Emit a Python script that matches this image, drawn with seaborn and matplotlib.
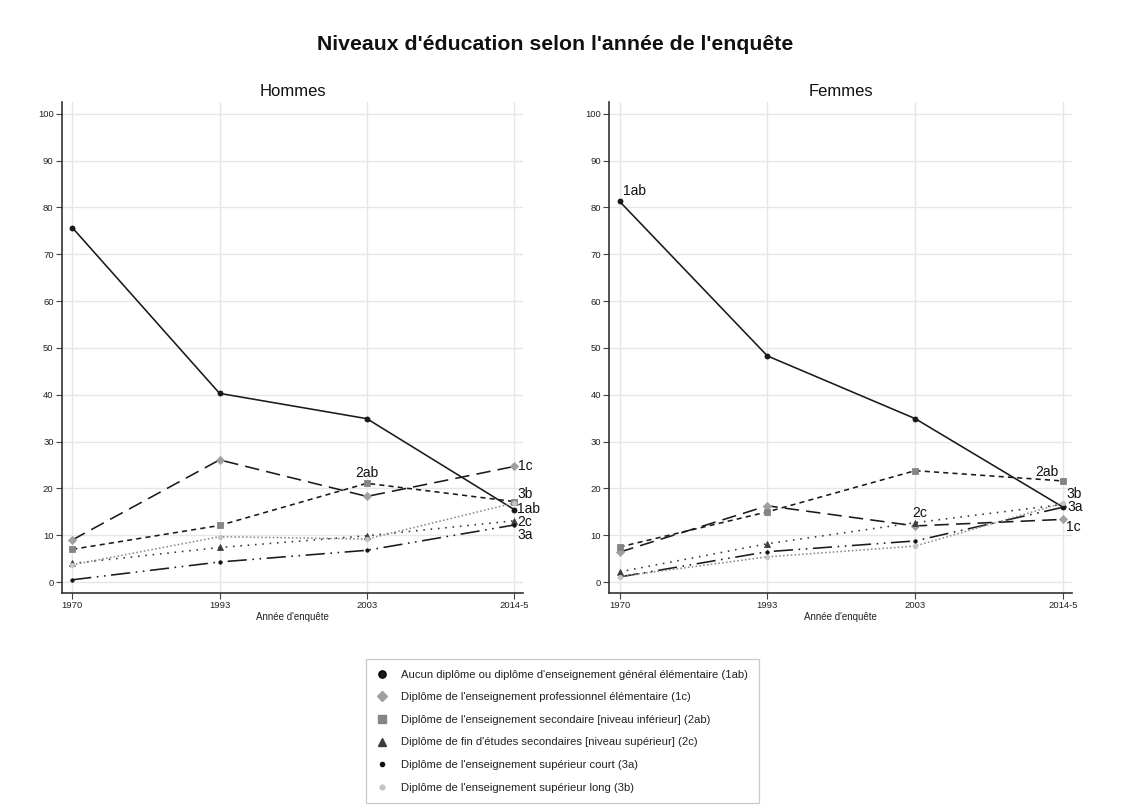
import numpy as np
import pandas as pd
import matplotlib
matplotlib.use("Agg")
import matplotlib.pyplot as plt
import seaborn as sns
from matplotlib.lines import Line2D

# ---------------- data ----------------
annees = ["1970", "1993", "2003", "2014-5"]
codes = ["1ab", "1c", "2ab", "2c", "3a", "3b"]
libelles = [
    "Aucun diplôme ou diplôme d'enseignement général élémentaire (1ab)",
    "Diplôme de l'enseignement professionnel élémentaire (1c)",
    "Diplôme de l'enseignement secondaire [niveau inférieur] (2ab)",
    "Diplôme de fin d'études secondaires [niveau supérieur] (2c)",
    "Diplôme de l'enseignement supérieur court (3a)",
    "Diplôme de l'enseignement supérieur long (3b)",
]

hommes_1ab = [75.7, 40.3, 34.9, 15.5]
hommes_1c = [9.0, 26.1, 18.3, 24.7]
hommes_2ab = [7.0, 12.1, 21.1, 17.2]
hommes_2c = [4.0, 7.4, 9.9, 13.1]
hommes_3a = [0.5, 4.3, 6.8, 12.2]
hommes_3b = [3.7, 9.7, 9.2, 16.9]

femmes_1ab = [81.3, 48.3, 34.9, 16.0]
femmes_1c = [6.4, 16.3, 12.0, 13.4]
femmes_2ab = [7.5, 15.0, 23.8, 21.6]
femmes_2c = [2.2, 8.2, 12.7, 16.6]
femmes_3a = [1.1, 6.5, 8.8, 16.0]
femmes_3b = [1.2, 5.4, 7.7, 16.9]

hommes = {"1ab": hommes_1ab, "1c": hommes_1c, "2ab": hommes_2ab,
          "2c": hommes_2c, "3a": hommes_3a, "3b": hommes_3b}
femmes = {"1ab": femmes_1ab, "1c": femmes_1c, "2ab": femmes_2ab,
          "2c": femmes_2c, "3a": femmes_3a, "3b": femmes_3b}

rows = []
for sexe, d in (("Hommes", hommes), ("Femmes", femmes)):
    for c in codes:
        for i, a in enumerate(annees):
            rows.append({"sexe": sexe, "code": c, "annee": a, "pos": i, "val": d[c][i]})
df = pd.DataFrame(rows)

# ---------------- styles ----------------
line_col = {"1ab": "#1a1a1a", "1c": "#1a1a1a", "2ab": "#1a1a1a",
            "2c": "#333333", "3a": "#1a1a1a", "3b": "#8c8c8c"}
dashes = {"1ab": "", "1c": (9, 4.5), "2ab": (3.2, 2.6), "2c": (1, 3.6),
          "3a": (12, 3.5, 1, 3.5, 1, 3.5), "3b": (1, 1.4)}
mk = {"1ab": "o", "1c": "D", "2ab": "s", "2c": "^", "3a": "o", "3b": "o"}
mk_col = {"1ab": "#1a1a1a", "1c": "#a0a0a0", "2ab": "#858585",
          "2c": "#3c3c3c", "3a": "#111111", "3b": "#c4c4c4"}
mk_size = {"1ab": 13, "1c": 17, "2ab": 18, "2c": 18, "3a": 6, "3b": 10}
leg_size = {"1ab": 5.2, "1c": 5.2, "2ab": 5.4, "2c": 5.6, "3a": 3.0, "3b": 3.4}

sns.set_style("whitegrid")
plt.rcParams["font.family"] = ["Liberation Sans", "DejaVu Sans"]

fig = plt.figure(figsize=(11.26, 8.07), dpi=100)
ax_h = fig.add_axes([0.055, 0.265, 0.4095, 0.608])
ax_f = fig.add_axes([0.541, 0.265, 0.411, 0.608])

# label offsets in pixels (dx, dy, ha, point index)
labels_h = {"1c": (4, 0, "left", 3), "3b": (3, 9, "left", 3), "1ab": (3, 1, "left", 3),
            "2c": (3, -1, "left", 3), "3a": (3, -10, "left", 3), "2ab": (0, 10, "center", 2)}
labels_f = {"1ab": (3, 10, "left", 0), "2ab": (-5, 9, "right", 3), "3b": (3, 9, "left", 3),
            "3a": (4, 0, "left", 3), "1c": (3, -8, "left", 3), "2c": (4, 10, "center", 2)}

for ax, sexe, labs in ((ax_h, "Hommes", labels_h), (ax_f, "Femmes", labels_f)):
    sub = df[df["sexe"] == sexe]
    sns.lineplot(data=sub, x="pos", y="val", hue="code", style="code",
                 palette=line_col, dashes=dashes, hue_order=codes, style_order=codes,
                 linewidth=1.15, ax=ax, legend=False, zorder=3)
    for c in codes:
        s = sub[sub["code"] == c]
        sns.scatterplot(data=s, x="pos", y="val", marker=mk[c], color=mk_col[c],
                        s=mk_size[c], edgecolor=mk_col[c] if c != "1ab" else "#111111",
                        linewidth=0.6, ax=ax, legend=False, zorder=4)
    for c, (dx, dy, ha, idx) in labs.items():
        s = sub[sub["code"] == c]
        ax.annotate(c, xy=(s["pos"].iloc[idx], s["val"].iloc[idx]),
                    xytext=(dx, dy), textcoords="offset pixels",
                    ha=ha, va="center", fontsize=10.0, color="#111111", zorder=5)

    ax.set_xlim(-0.07, 3.06)
    ax.set_ylim(-2.35, 102.4)
    ax.set_xticks(range(len(annees)))
    ax.set_xticklabels(annees)
    ax.set_yticks(np.arange(0, 101, 10))
    ax.tick_params(axis="both", labelsize=6.8, length=4, width=0.8, color="#444444",
                   pad=2, labelcolor="#222222", left=True, bottom=True)
    ax.grid(True, color="#e6e6e6", linewidth=1.0)
    for side in ("top", "right"):
        ax.spines[side].set_visible(False)
    for side in ("left", "bottom"):
        ax.spines[side].set_visible(True)
        ax.spines[side].set_color("#333333")
        ax.spines[side].set_linewidth(1.2)
    ax.set_xlabel("Année d'enquête", fontsize=7, labelpad=1, color="#222222")
    ax.set_ylabel("")
    ax.set_title(sexe, fontsize=12, pad=5, color="#111111")
    ax.set_facecolor("white")

fig.suptitle("Niveaux d'éducation selon l'année de l'enquête", fontsize=15.3,
             fontweight="bold", y=1 - 45 / 807, va="center", x=555 / 1126, color="#111111")

handles = [Line2D([0], [0], linestyle="none", marker=mk[c], color=mk_col[c],
                  markeredgecolor=mk_col[c] if c != "1ab" else "#000000",
                  markersize=leg_size[c]) for c in codes]
leg = fig.legend(handles, libelles, loc="upper left",
                 bbox_to_anchor=(366 / 1126, 1 - 659 / 807),
                 frameon=True, fancybox=False, fontsize=8.1, labelspacing=1.12,
                 handlelength=0.9, handletextpad=1.3, borderpad=0.95,
                 borderaxespad=0, edgecolor="#bdbdbd")
leg.get_frame().set_linewidth(0.9)
for t in leg.get_texts():
    t.set_color("#222222")

fig.savefig("out.png", dpi=100, facecolor="white")
